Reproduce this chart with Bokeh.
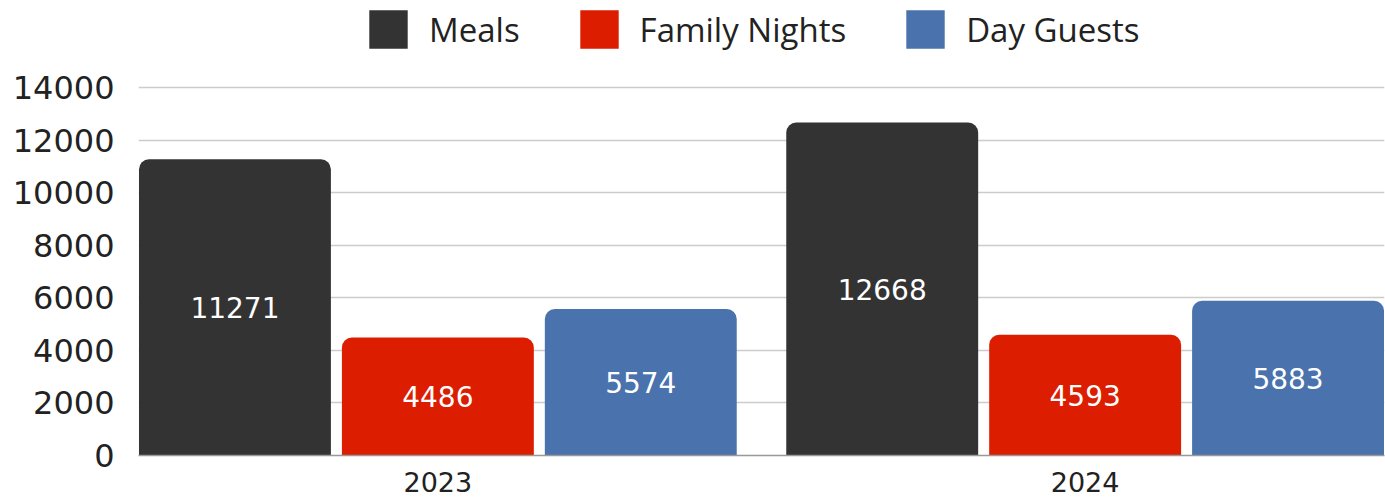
from bokeh.plotting import figure
from bokeh.models import Range1d, FixedTicker, Legend, LegendItem, ColumnDataSource
from bokeh.core.properties import value
from bokeh.embed import file_html
from bokeh.resources import INLINE

years = ["2023", "2024"]
series = ["Meals", "Family Nights", "Day Guests"]
meals = [11271, 12668]
family_nights = [4486, 4593]
day_guests = [5574, 5883]
colors = ["#333333", "#dc1d00", "#4a72ad"]
y_ticks = [0, 2000, 4000, 6000, 8000, 10000, 12000, 14000]

values = [meals, family_nights, day_guests]
offsets = [-0.3135, 0.0, 0.3135]
bar_w = 0.2965

p = figure(width=1385, height=501, output_backend="svg", toolbar_location=None,
           x_range=Range1d(-0.4625, 1.4625), y_range=Range1d(0, 17310),
           min_border_left=138, min_border_right=1, min_border_top=0, min_border_bottom=46)
p.outline_line_color = None
p.background_fill_color = "white"
p.border_fill_color = "white"

renderers = []
for name, vals, off, col in zip(series, values, offsets, colors):
    xs = [i + off for i in range(len(years))]
    src = ColumnDataSource(dict(x=xs, top=vals, mid=[v / 2 for v in vals], lab=[str(v) for v in vals]))
    r = p.vbar(x="x", top="top", bottom=0, width=bar_w, source=src, fill_color=col,
               line_color=None, border_radius=(10, 10, 0, 0))
    renderers.append((name, r))
    p.text(x="x", y="mid", text="lab", source=src, text_color="white",
           text_align="center", text_baseline="middle",
           text_font=value("DejaVu Sans"), text_font_size="28px")

legend = Legend(items=[LegendItem(label=n, renderers=[r]) for n, r in renderers],
                location=(226, 402), orientation="horizontal",
                glyph_width=48, glyph_height=48, label_standoff=17, spacing=55,
                padding=0, margin=0, border_line_alpha=0, background_fill_alpha=0,
                label_text_font="Open Sans", label_text_font_size="33px",
                label_text_color="#222222")
p.add_layout(legend)

p.yaxis.ticker = FixedTicker(ticks=y_ticks)
p.yaxis.axis_line_color = None
p.yaxis.major_tick_line_color = None
p.yaxis.minor_tick_line_color = None
p.yaxis.major_label_standoff = 18
p.yaxis.major_label_text_font = "DejaVu Sans"
p.yaxis.major_label_text_font_size = "32px"
p.yaxis.major_label_text_color = "#222222"

p.xaxis.ticker = FixedTicker(ticks=list(range(len(years))))
p.xaxis.major_label_overrides = {i: y for i, y in enumerate(years)}
p.xaxis.axis_line_color = "#999999"
p.xaxis.axis_line_width = 1.5
p.xaxis.major_tick_line_color = None
p.xaxis.minor_tick_line_color = None
p.xaxis.major_label_standoff = 10
p.xaxis.major_label_text_font = "DejaVu Sans"
p.xaxis.major_label_text_font_size = "27px"
p.xaxis.major_label_text_color = "#222222"

p.xgrid.grid_line_color = None
p.ygrid.grid_line_color = "#cccccc"
p.ygrid.grid_line_width = 1.5

open("out.html", "w").write(file_html(p, INLINE))
